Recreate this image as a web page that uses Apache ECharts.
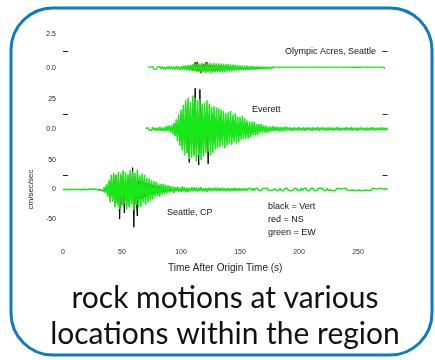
<!DOCTYPE html>
<html><head><meta charset="utf-8">
<script src="https://cdn.jsdelivr.net/npm/echarts@6/dist/echarts.min.js"></script>
<style>html,body{margin:0;padding:0;background:#fff}#c{width:435px;height:360px}</style>
</head><body><div id="c"></div>
<script>
// ---------- data ----------
const SAMPLE_DT = 1; // seconds between samples
const xTicks = [0, 50, 100, 150, 200, 250];
const xTitle = 'Time After Origin Time (s)';
const yTitle = 'cm/sec/sec';
const stationNames = ['Olympic Acres, Seattle', 'Everett', 'Seattle, CP'];
const legendLines = ['black = Vert', 'red = NS', 'green = EW'];
const captionLines = ['rock motions at various', 'locations within the region'];

const topTicks = [0, 2.5], topTickText = ['0.0', '2.5'];
const midTicks = [0, 25], midTickText = ['0.0', '25'];
const botTicks = [-50, 0, 50], botTickText = ['-50', '0', '50'];

// Station 1 (top)
const topEwStart = 72;
const topEw = [
0.05,-0.05,0.08,-0.06,0.1,-0.08,0.06,-0.1,0.08,-0.06,
0.1,-0.08,0.12,-0.1,0.08,-0.12,0.1,-0.08,0.12,-0.1,
0.14,-0.12,0.1,-0.14,0.16,-0.12,0.14,-0.16,0.12,-0.14,
0.18,-0.15,0.2,-0.18,0.22,-0.2,0.25,-0.22,0.28,-0.25,
0.3,-0.28,0.35,-0.3,0.32,-0.35,0.38,-0.3,0.34,-0.36,
0.4,-0.32,0.36,-0.38,0.33,-0.35,0.38,-0.32,0.35,-0.3,
0.34,-0.3,0.32,-0.34,0.28,-0.3,0.3,-0.26,0.28,-0.25,
0.26,-0.24,0.25,-0.22,0.24,-0.2,0.22,-0.2,0.2,-0.18,
0.2,-0.17,0.18,-0.16,0.17,-0.15,0.16,-0.14,0.15,-0.13,
0.14,-0.12,0.13,-0.12,0.12,-0.1,0.11,-0.1,0.1,-0.09,
0.1,-0.08,0.09,-0.08,0.08,-0.07,0.08,-0.06,0.07,-0.06,
0.07,-0.06,0.05,-0.07,0.06,-0.05,0.07,-0.06,0.05,-0.06,
0.06,-0.05,0.07,-0.06,0.05,-0.07,0.06,-0.05,0.06,-0.06,
0.05,-0.06,0.07,-0.05,0.06,-0.06,0.05,-0.07,0.06,-0.05,
0.06,-0.07,0.05,-0.06,0.07,-0.05,0.06,-0.06,0.05,-0.06,
0.07,-0.05,0.06,-0.07,0.05,-0.06,0.06,-0.05,0.07,-0.06,
0.05,-0.06,0.06,-0.05,0.07,-0.06,0.05,-0.05,0.06,-0.07,
0.06,-0.05,0.05,-0.06,0.07,-0.06,0.05,-0.05,0.06,-0.06,
0.05,-0.07,0.06,-0.05,0.06,-0.06,0.05,-0.06,0.07,-0.05,
0.06,-0.05,0.05,-0.06,0.06,-0.05,0.07,-0.06,0.05,-0.05,
0.06,-0.05
];
const topVertStart = 100;
const topVert = [
0.03,-0.05,0.06,-0.07,0.09,-0.07,0.12,-0.1,0.13,-0.12,
0.15,-0.18,0.42,-0.17,0.45,-0.2,0.18,-0.38,0.25,-0.18,
0.2,-0.22,0.44,-0.18,0.24,-0.2,0.19,-0.24,0.22,-0.17,
0.18,-0.2,0.2,-0.17,0.18,-0.19,0.15,-0.18,0.17,-0.13,
0.14,-0.15,0.12,-0.13,0.13,-0.1,0.12,-0.1,0.1,-0.09,
0.09,-0.08,0.08,-0.07,0.07,-0.06,0.06,-0.05,0.05,-0.05,
0.05,-0.04,0.04,-0.04,0.04,-0.03,0.03,-0.03,0.02,-0.02
];
const topNsStart = 105;
const topNs = [
0.06,-0.09,0.12,-0.1,0.15,-0.18,0.2,-0.15,0.4,-0.19,
0.22,-0.24,0.18,-0.21,0.27,-0.18,0.42,-0.25,0.21,-0.18,
0.23,-0.2,0.18,-0.22,0.19,-0.17,0.18,-0.18,0.16,-0.14,
0.17,-0.13,0.14,-0.12,0.13,-0.11,0.12,-0.1,0.1,-0.08,
0.08,-0.07,0.07,-0.06,0.06,-0.06,0.05,-0.05,0.04,-0.04
];

// Station 2 (middle)
const midEwStart = 70;
const midEw = [
0.5,-0.5,1,-1,0.5,-1,1.5,-1,1,-1.5,
1,-1.5,2,-1.5,1,-2,1.5,-2,2.5,-2,
3,-2.5,3,-4,5,-6,8,-10,12,-14,
16,-18,20,-22,24,-20,26,-25,22,-24,
28,-23,26,-27,24,-22,25,-26,21,-23,
22,-20,24,-19,21,-22,18,-20,19,-17,
18,-16,17,-15,16,-14,15,-16,13,-14,
14,-12,15,-13,12,-11,13,-12,10,-11,
10,-9,11,-8,9,-8,7,-8,6,-7,
6,-5,6,-5,4,-5,4,-3,4,-3,
3,-3,2.5,-3,2,-2.5,2,-2,2.5,-2,
2,-1.5,2,-2,1.5,-2,1.5,-1.5,2,-1.5,
1.5,-1,1.5,-1.5,1,-1.5,1.5,-1,1,-1.5,
1.5,-1,1,-1.5,1.5,-1.5,1,-1,1.5,-1,
1,-1.5,1.5,-1,1,-1,1.5,-1.5,1,-1,
1.5,-1,1,-1.5,1,-1,1.5,-1,1,-1.5,
1,-1,1.5,-1,1,-1.5,1,-1,1,-1,
1.5,-1,1,-1,1.5,-1.5,1,-1,1,-1.5,
1,-1,1.5,-1,1,-1,1,-1.5,1,-1,
1,-1,1.5,-1,1,-1.5,1,-1,1,-1,
1.5,-1,1,-1,1,-1
];
const midVertStart = 90;
const midVert = [
1,-1,2,-2,3,-3,4,-5,6,-8,
9,-10,11,-14,13,-12,15,-28,14,-13,
16,-14,34,-15,15,-30,33,-14,13,-16,
14,-13,15,-29,12,-12,13,-11,11,-10,
10,-9,10,-8,12,-8,8,-9,7,-8,
8,-7,8,-7,7,-6,7,-6,5,-6,
5,-5,6,-4,5,-4,4,-4,3,-4,
3,-2,3,-2,2,-2,2,-1,2,-1,1
];
const midNsStart = 95;
const midNs = [
-3,4,-6,8,-10,12,-14,16,-18,17,
-20,21,-19,22,-18,20,-21,19,-17,18,
-19,17,-16,18,-15,16,-17,14,-15,13,
-14,12,-13,11,-12,10,-11,9,-10,9,
-8,8,-7,7,-6,6,-5,5,-5,4,
-4,4,-3,3,-3,3,-2,2,-2,2
];

// Station 3 (bottom)
const botEwStart = 0;
const botEw = [
0,0,0.5,0,-0.5,0,0.5,0,0,-0.5,
0,0.5,0,-0.5,0,0.5,-0.5,0,0.5,0,
-0.5,0,1,-1,0.5,-0.5,1,-1,0.5,0,
-1,1.5,-1,2,-3,4,-6,9,-12,16,
-22,25,-18,28,-30,22,-26,30,-33,27,
-28,32,-24,29,-34,26,-30,33,-25,31,
-35,28,-27,34,-30,24,-29,27,-22,25,
-26,20,-22,18,-19,15,-17,14,-12,13,
-11,10,-12,9,-8,10,-7,8,-6,7,
-5,6,-4,5,-6,4,-3,5,-4,3,
-4,5,-3,4,-5,3,-4,2,-3,4,
-3,4,-2,3,-4,3,-2,4,-3,2,
-3,2,-4,3,-2,3,-3,2,-2,3,
-2,3,-3,2,-2,3,-2,2,-3,2,
-2,2,-3,2,-2,3,-2,2,-2,2,
-2,1.5,-2,2,-1.5,2,-2,1.5,-1.5,2,
-1.5,2,-2,1.5,-1.5,2,-1.5,1.5,-2,1.5,
-1.5,1.5,-1.5,2,-1.5,1.5,-1.5,1.5,-1,1.5,
1.5,-2,1,-1.5,2,-1.5,1,-2,1.5,-1,
2,-1.5,1.5,-2,1,-1.5,2,-1,1.5,-2,
1,-1.5,2.5,-2,1.5,-1,2,-1.5,1,-2,
1.5,-1,2,-1.5,1,-2,1.5,-1.5,2,-1,
1.5,-2,1,-1.5,2,-1.5,1,-1,1.5,-2,
1,-1.5,2,-1,1.5,-1.5,1,-2,1.5,-1,
2,-1.5,1,-1.5,1.5,-1,2,-1.5,1,-1.5,
1.5,-1,1.5,-2,1,-1.5,1.5,-1,1.5,-1.5,
1,-1.5,2,-1,1.5,-1.5,1,-1.5,1.5,-1,
1.5,-1.5,1,-1,1.5,-1
];
const botVertStart = 30;
const botVert = [
0,0.5,-0.5,1,-2,3,-4,6,-8,10,
-12,13,-15,14,-17,15,-18,16,-50,14,
-15,16,-40,15,-17,17,-19,16,-18,37,
-64,18,-17,-45,15,-16,14,-15,13,-12,
11,-11,10,-9,8,-8,7,-7,6,-5,
5,-5,5,-4,4,-4,3,-3,2,-2,
2,-2,2,-2,1,-1,1,-1,1,-1,0.5
];
const botNsStart = 35;
const botNs = [
2,-4,6,-8,12,-15,18,-20,22,-24,
25,-22,24,-26,23,-25,26,-22,24,-25,
22,-24,26,-23,25,-27,22,-24,21,-20,
19,-18,17,-16,15,-14,12,-11,10,-9,
8,-8,7,-6,6,-5,5,-4,4,-3,
3,-3,2,-2,2,-1
];

// ---------- chart ----------
const COLORS = { vert: '#000000', ns: '#e8201a', ew: '#17e817' };
const FONT = '"Liberation Sans", Arial, sans-serif';
const chart = echarts.init(document.getElementById('c'), null, { renderer: 'canvas' });

function trace(start, vals, gi, color, z, w) {
  return {
    type: 'line', xAxisIndex: gi, yAxisIndex: gi,
    data: vals.map((v, i) => [start + i * SAMPLE_DT, v]),
    symbol: 'none', showSymbol: false, clip: false, silent: true,
    animation: false, z: z,
    lineStyle: { width: w, color: color }
  };
}

const gridCommon = { left: 63, right: 47.5 };
const grids = [
  Object.assign({ top: 34, height: 68 }, gridCommon),
  Object.assign({ top: 99, height: 60 }, gridCommon),
  Object.assign({ top: 160, height: 59 }, gridCommon)
];

function xAx(gi, show) {
  return {
    type: 'value', gridIndex: gi, min: 0, max: 275, show: show,
    axisLine: { show: false }, axisTick: { show: false }, splitLine: { show: false },
    axisLabel: { customValues: xTicks, fontSize: 7, color: '#333', margin: 30, fontFamily: FONT },
    name: show ? xTitle : '', nameLocation: 'middle', nameGap: 44,
    nameTextStyle: { fontSize: 10, color: '#222', fontFamily: FONT }
  };
}
function yAx(gi, min, max, ticks, texts, mid, pos, name) {
  const left = pos === 'left';
  return {
    type: 'value', gridIndex: gi, min: min, max: max, position: pos,
    axisLine: { show: false }, splitLine: { show: false },
    axisTick: { show: true, inside: true, length: 5, customValues: [mid], lineStyle: { color: '#222', width: 1 } },
    axisLabel: {
      show: left, customValues: ticks, fontSize: 7, color: '#222', margin: 7, fontFamily: FONT,
      formatter: v => texts[ticks.indexOf(v)]
    },
    name: name || '', nameLocation: 'middle', nameRotate: 90, nameGap: 26,
    nameTextStyle: { fontSize: 8, color: '#222', fontFamily: FONT }
  };
}

const CAPTION_FONT = '30px Lato, "Open Sans", sans-serif';
const option = {
  backgroundColor: '#ffffff',
  animation: false,
  grid: grids,
  xAxis: [xAx(0, false), xAx(1, false), xAx(2, true)],
  yAxis: [
    yAx(0, -2.5, 2.5, topTicks, topTickText, 1.25, 'left'),
    yAx(1, -25, 25, midTicks, midTickText, 12.5, 'left'),
    yAx(2, -50, 50, botTicks, botTickText, 25, 'left', yTitle),
    yAx(0, -2.5, 2.5, topTicks, topTickText, 1.25, 'right'),
    yAx(1, -25, 25, midTicks, midTickText, 12.5, 'right'),
    yAx(2, -50, 50, botTicks, botTickText, 25, 'right')
  ],
  series: [
    trace(topVertStart, topVert, 0, COLORS.vert, 1, 1),
    trace(topNsStart, topNs, 0, COLORS.ns, 2, 1),
    trace(topEwStart, topEw, 0, COLORS.ew, 3, 1.3),
    trace(midVertStart, midVert, 1, COLORS.vert, 1, 1),
    trace(midNsStart, midNs, 1, COLORS.ns, 2, 1),
    trace(midEwStart, midEw, 1, COLORS.ew, 3, 1.5),
    trace(botVertStart, botVert, 2, COLORS.vert, 1, 1),
    trace(botNsStart, botNs, 2, COLORS.ns, 2, 1),
    trace(botEwStart, botEw, 2, COLORS.ew, 3, 1.5)
  ],
  graphic: [
    { type: 'rect', shape: { x: 11, y: 8, width: 421, height: 347, r: 42 },
      style: { fill: 'none', stroke: '#0a7bc6', lineWidth: 3 }, z: 10, silent: true },
    { type: 'text', x: 376, y: 52, style: { text: stationNames[0], fill: '#111', font: '9px ' + FONT, textAlign: 'right', textVerticalAlign: 'middle' }, z: 10 },
    { type: 'text', x: 252, y: 110, style: { text: stationNames[1], fill: '#111', font: '9px ' + FONT, textAlign: 'left', textVerticalAlign: 'middle' }, z: 10 },
    { type: 'text', x: 167, y: 213, style: { text: stationNames[2], fill: '#111', font: '9px ' + FONT, textAlign: 'left', textVerticalAlign: 'middle' }, z: 10 },
    { type: 'text', x: 268, y: 207, style: { text: legendLines[0], fill: '#111', font: '9px ' + FONT, textVerticalAlign: 'middle' }, z: 10 },
    { type: 'text', x: 268, y: 220, style: { text: legendLines[1], fill: '#111', font: '9px ' + FONT, textVerticalAlign: 'middle' }, z: 10 },
    { type: 'text', x: 268, y: 233, style: { text: legendLines[2], fill: '#111', font: '9px ' + FONT, textVerticalAlign: 'middle' }, z: 10 },
    { type: 'text', x: 225, y: 298, style: { text: captionLines[0], fill: '#111', font: CAPTION_FONT, textAlign: 'center', textVerticalAlign: 'middle' }, z: 10 },
    { type: 'text', x: 225, y: 334, style: { text: captionLines[1], fill: '#111', font: CAPTION_FONT, textAlign: 'center', textVerticalAlign: 'middle' }, z: 10 }
  ]
};
chart.setOption(option);
</script></body></html>
